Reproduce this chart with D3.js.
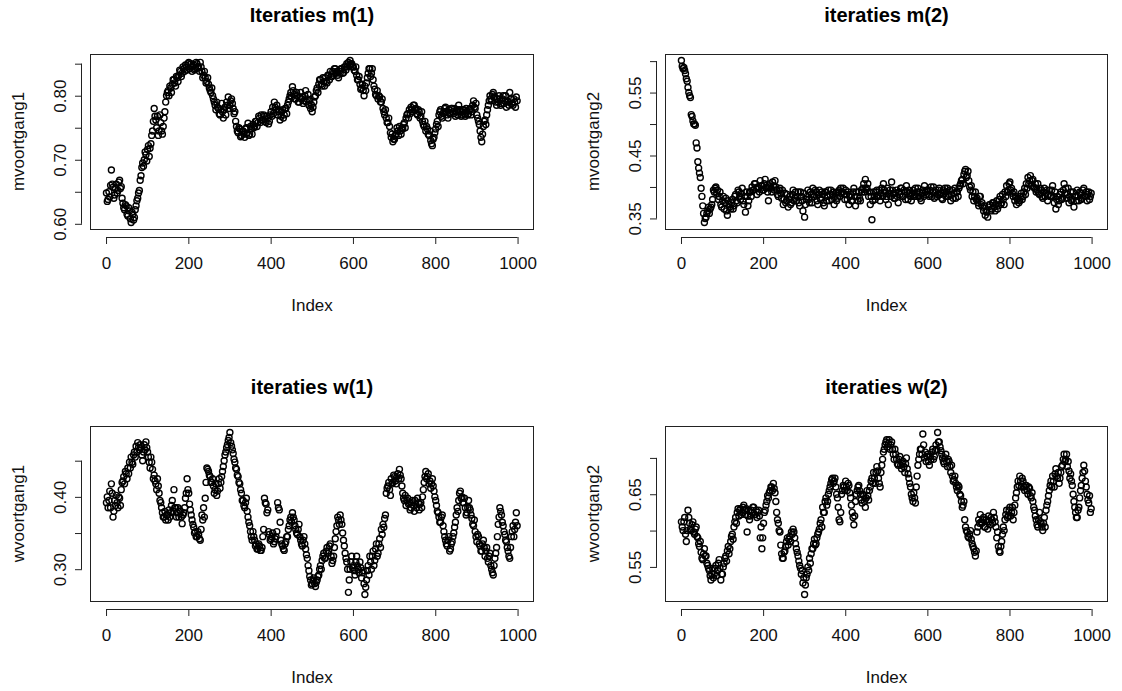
<!DOCTYPE html>
<html>
<head>
<meta charset="utf-8">
<script src="https://cdn.jsdelivr.net/npm/d3@7/dist/d3.min.js"></script>
<style>
  html, body { margin: 0; padding: 0; background: #fff; }
  svg { display: block; font-family: "Liberation Sans", Arial, sans-serif; }
</style>
</head>
<body>
<div class="root"></div>
<script>
// trace values.
// "_a" arrays hold iterations 1, 5, 9, ... 997 and "_b" arrays iterations 3, 7, 11, ... 999
var nIter = 1000, thin = 4;

var mvoortgang1_a = [
  0.648,0.638,0.642,0.684,0.657,0.645,0.662,0.652,0.668,0.658,
  0.632,0.622,0.628,0.612,0.620,0.602,0.615,0.610,0.628,0.640,
  0.652,0.675,0.695,0.700,0.708,0.716,0.705,0.725,0.745,0.780,
  0.762,0.768,0.745,0.758,0.740,0.765,0.790,0.805,0.800,0.812,
  0.818,0.825,0.815,0.828,0.832,0.838,0.835,0.842,0.848,0.840,
  0.852,0.845,0.838,0.848,0.842,0.850,0.845,0.852,0.838,0.832,
  0.828,0.822,0.818,0.808,0.812,0.795,0.785,0.790,0.780,0.770,
  0.788,0.765,0.782,0.790,0.798,0.785,0.795,0.780,0.775,0.752,
  0.742,0.748,0.738,0.745,0.735,0.750,0.757,0.740,0.748,0.755,
  0.752,0.760,0.758,0.765,0.770,0.762,0.768,0.758,0.765,0.760,
  0.775,0.782,0.790,0.778,0.770,0.775,0.768,0.778,0.770,0.780,
  0.785,0.795,0.805,0.814,0.802,0.795,0.800,0.790,0.805,0.798,
  0.792,0.808,0.795,0.785,0.780,0.775,0.790,0.800,0.812,0.818,
  0.825,0.815,0.822,0.828,0.820,0.832,0.838,0.830,0.835,0.842,
  0.838,0.828,0.835,0.842,0.836,0.845,0.850,0.852,0.855,0.850,
  0.845,0.838,0.832,0.825,0.818,0.812,0.808,0.815,0.820,0.835,
  0.842,0.835,0.825,0.810,0.800,0.795,0.798,0.790,0.780,0.770,
  0.765,0.758,0.752,0.735,0.728,0.732,0.740,0.745,0.752,0.740,
  0.748,0.758,0.765,0.772,0.778,0.782,0.775,0.785,0.780,0.770,
  0.775,0.768,0.760,0.752,0.745,0.748,0.738,0.730,0.722,0.735,
  0.748,0.760,0.770,0.778,0.765,0.775,0.782,0.770,0.778,0.772,
  0.780,0.772,0.768,0.778,0.785,0.775,0.770,0.778,0.768,0.776,
  0.772,0.780,0.775,0.792,0.780,0.770,0.760,0.745,0.728,0.752,
  0.762,0.770,0.785,0.800,0.792,0.805,0.798,0.785,0.790,0.795,
  0.788,0.800,0.792,0.782,0.790,0.805,0.795,0.785,0.790,0.798
];
var mvoortgang1_b = [
  0.635,0.650,0.660,0.662,0.640,0.655,0.648,0.665,0.655,0.640,
  0.625,0.630,0.615,0.625,0.608,0.618,0.606,0.622,0.636,0.648,
  0.668,0.688,0.690,0.712,0.698,0.722,0.718,0.738,0.760,0.768,
  0.750,0.738,0.770,0.745,0.752,0.775,0.800,0.808,0.815,0.805,
  0.825,0.820,0.830,0.822,0.840,0.830,0.845,0.838,0.845,0.850,
  0.842,0.850,0.846,0.840,0.852,0.843,0.838,0.845,0.828,0.838,
  0.820,0.828,0.812,0.805,0.800,0.790,0.778,0.782,0.772,0.778,
  0.775,0.778,0.770,0.785,0.780,0.792,0.788,0.772,0.760,0.745,
  0.750,0.736,0.745,0.740,0.748,0.742,0.738,0.752,0.740,0.750,
  0.760,0.752,0.768,0.758,0.762,0.770,0.760,0.768,0.756,0.770,
  0.768,0.772,0.782,0.785,0.778,0.762,0.775,0.765,0.780,0.772,
  0.790,0.800,0.798,0.808,0.795,0.805,0.790,0.798,0.795,0.788,
  0.800,0.790,0.802,0.792,0.786,0.782,0.798,0.808,0.805,0.825,
  0.818,0.828,0.815,0.822,0.832,0.825,0.830,0.838,0.842,0.835,
  0.832,0.838,0.842,0.835,0.845,0.840,0.845,0.848,0.850,0.845,
  0.840,0.845,0.825,0.830,0.810,0.818,0.800,0.808,0.828,0.842,
  0.830,0.842,0.815,0.802,0.808,0.800,0.790,0.795,0.775,0.778,
  0.758,0.765,0.742,0.740,0.732,0.738,0.750,0.738,0.745,0.750,
  0.755,0.750,0.770,0.765,0.772,0.778,0.785,0.778,0.772,0.778,
  0.765,0.775,0.755,0.760,0.752,0.740,0.745,0.725,0.732,0.742,
  0.755,0.752,0.775,0.768,0.772,0.780,0.775,0.765,0.772,0.780,
  0.775,0.780,0.775,0.770,0.778,0.768,0.778,0.772,0.780,0.770,
  0.778,0.770,0.785,0.782,0.788,0.765,0.755,0.735,0.740,0.760,
  0.755,0.778,0.792,0.795,0.802,0.798,0.790,0.795,0.800,0.785,
  0.795,0.788,0.800,0.792,0.785,0.795,0.788,0.795,0.782,0.792
];

var mvoortgang2_a = [
  0.601,0.588,0.585,0.572,0.558,0.545,0.515,0.505,0.500,0.470,
  0.440,0.422,0.398,0.370,0.3435,0.352,0.362,0.358,0.368,0.380,
  0.392,0.400,0.395,0.385,0.372,0.378,0.365,0.382,0.355,0.372,
  0.365,0.380,0.370,0.388,0.375,0.392,0.380,0.398,0.372,0.360,
  0.385,0.378,0.392,0.400,0.395,0.405,0.388,0.398,0.410,0.402,
  0.395,0.412,0.400,0.378,0.405,0.392,0.402,0.410,0.395,0.385,
  0.398,0.382,0.372,0.390,0.378,0.368,0.385,0.375,0.395,0.382,
  0.378,0.392,0.370,0.385,0.362,0.352,0.380,0.395,0.375,0.388,
  0.398,0.385,0.392,0.372,0.395,0.380,0.388,0.370,0.392,0.385,
  0.378,0.395,0.388,0.372,0.390,0.382,0.395,0.398,0.392,0.388,
  0.395,0.380,0.372,0.388,0.378,0.398,0.370,0.385,0.392,0.378,
  0.392,0.405,0.412,0.398,0.385,0.372,0.348,0.392,0.380,0.395,
  0.385,0.378,0.398,0.405,0.392,0.385,0.372,0.395,0.408,0.390,
  0.382,0.395,0.375,0.388,0.398,0.385,0.392,0.402,0.380,0.390,
  0.378,0.395,0.388,0.385,0.398,0.392,0.378,0.395,0.402,0.388,
  0.395,0.385,0.400,0.392,0.382,0.395,0.388,0.398,0.390,0.380,
  0.392,0.385,0.398,0.388,0.378,0.395,0.390,0.382,0.392,0.398,
  0.405,0.412,0.420,0.428,0.418,0.410,0.395,0.385,0.378,0.392,
  0.382,0.370,0.385,0.375,0.362,0.355,0.360,0.368,0.372,0.365,
  0.375,0.362,0.378,0.370,0.385,0.375,0.380,0.392,0.402,0.395,
  0.408,0.398,0.385,0.378,0.372,0.382,0.378,0.390,0.385,0.398,
  0.405,0.415,0.410,0.402,0.412,0.398,0.392,0.405,0.388,0.395,
  0.382,0.398,0.390,0.378,0.395,0.385,0.402,0.375,0.365,0.385,
  0.378,0.392,0.382,0.405,0.398,0.388,0.375,0.392,0.380,0.368,
  0.385,0.395,0.378,0.390,0.382,0.398,0.385,0.378,0.392,0.385
];
var mvoortgang2_b = [
  0.592,0.590,0.580,0.568,0.550,0.542,0.512,0.500,0.498,0.462,
  0.430,0.415,0.385,0.358,0.350,0.358,0.368,0.365,0.372,0.395,
  0.398,0.390,0.380,0.392,0.368,0.385,0.375,0.362,0.378,0.368,
  0.375,0.365,0.385,0.378,0.395,0.385,0.390,0.378,0.385,0.392,
  0.370,0.392,0.385,0.395,0.405,0.398,0.400,0.392,0.402,0.395,
  0.405,0.398,0.392,0.402,0.398,0.408,0.395,0.400,0.388,0.395,
  0.390,0.395,0.380,0.375,0.388,0.380,0.372,0.388,0.378,0.392,
  0.385,0.375,0.392,0.378,0.390,0.372,0.385,0.380,0.392,0.375,
  0.388,0.395,0.378,0.388,0.382,0.392,0.375,0.392,0.378,0.395,
  0.388,0.380,0.392,0.385,0.378,0.392,0.385,0.390,0.398,0.380,
  0.388,0.392,0.385,0.378,0.392,0.385,0.392,0.378,0.382,0.395,
  0.398,0.392,0.395,0.405,0.392,0.385,0.378,0.385,0.392,0.385,
  0.395,0.390,0.385,0.395,0.380,0.398,0.390,0.385,0.395,0.382,
  0.390,0.385,0.392,0.398,0.385,0.395,0.380,0.392,0.395,0.385,
  0.390,0.385,0.398,0.392,0.385,0.382,0.390,0.385,0.392,0.395,
  0.388,0.395,0.385,0.400,0.392,0.385,0.395,0.388,0.382,0.395,
  0.398,0.392,0.385,0.395,0.388,0.382,0.398,0.392,0.385,0.402,
  0.410,0.405,0.425,0.415,0.425,0.400,0.402,0.392,0.385,0.380,
  0.375,0.385,0.372,0.368,0.370,0.362,0.352,0.372,0.362,0.375,
  0.368,0.372,0.365,0.380,0.372,0.388,0.372,0.385,0.392,0.405,
  0.395,0.390,0.392,0.385,0.380,0.375,0.385,0.380,0.392,0.388,
  0.398,0.405,0.418,0.410,0.400,0.405,0.395,0.390,0.398,0.385,
  0.392,0.385,0.395,0.388,0.385,0.395,0.385,0.392,0.380,0.372,
  0.388,0.380,0.395,0.390,0.382,0.398,0.385,0.378,0.392,0.385,
  0.378,0.385,0.392,0.380,0.395,0.385,0.392,0.388,0.380,0.390
];

var wvoortgang1_a = [
  0.392,0.385,0.408,0.418,0.372,0.395,0.402,0.385,0.398,0.410,
  0.422,0.418,0.432,0.440,0.448,0.455,0.445,0.462,0.470,0.475,
  0.465,0.468,0.450,0.472,0.476,0.462,0.448,0.455,0.438,0.430,
  0.418,0.425,0.405,0.392,0.378,0.372,0.368,0.375,0.382,0.378,
  0.395,0.410,0.385,0.378,0.372,0.380,0.363,0.378,0.398,0.425,
  0.405,0.382,0.368,0.358,0.352,0.345,0.348,0.340,0.375,0.385,
  0.398,0.440,0.435,0.428,0.420,0.415,0.410,0.402,0.418,0.412,
  0.428,0.442,0.458,0.468,0.478,0.489,0.470,0.460,0.448,0.438,
  0.428,0.418,0.405,0.395,0.385,0.398,0.372,0.360,0.345,0.352,
  0.340,0.335,0.328,0.332,0.326,0.345,0.398,0.390,0.382,0.348,
  0.342,0.350,0.338,0.345,0.392,0.382,0.340,0.332,0.326,0.338,
  0.345,0.360,0.372,0.378,0.368,0.355,0.348,0.362,0.340,0.332,
  0.345,0.328,0.315,0.298,0.285,0.280,0.288,0.276,0.285,0.292,
  0.305,0.312,0.322,0.315,0.330,0.325,0.335,0.308,0.318,0.342,
  0.360,0.368,0.375,0.362,0.340,0.322,0.310,0.268,0.300,0.318,
  0.305,0.292,0.318,0.300,0.310,0.288,0.298,0.265,0.285,0.305,
  0.318,0.300,0.325,0.312,0.335,0.322,0.342,0.355,0.362,0.370,
  0.405,0.415,0.410,0.425,0.420,0.428,0.418,0.432,0.438,0.425,
  0.405,0.395,0.388,0.398,0.392,0.385,0.395,0.380,0.390,0.398,
  0.382,0.392,0.400,0.420,0.435,0.428,0.418,0.412,0.425,0.408,
  0.395,0.380,0.372,0.365,0.375,0.352,0.340,0.332,0.345,0.328,
  0.338,0.350,0.365,0.385,0.395,0.408,0.400,0.392,0.385,0.378,
  0.395,0.382,0.370,0.360,0.352,0.338,0.345,0.332,0.325,0.340,
  0.318,0.330,0.310,0.322,0.300,0.292,0.315,0.330,0.362,0.385,
  0.375,0.360,0.348,0.338,0.325,0.315,0.345,0.360,0.355,0.378
];
var wvoortgang1_b = [
  0.400,0.395,0.385,0.405,0.380,0.388,0.392,0.400,0.388,0.420,
  0.428,0.435,0.425,0.432,0.440,0.448,0.458,0.455,0.462,0.468,
  0.472,0.458,0.462,0.465,0.468,0.455,0.440,0.448,0.425,0.422,
  0.410,0.415,0.395,0.385,0.372,0.380,0.375,0.368,0.372,0.388,
  0.380,0.385,0.372,0.385,0.382,0.372,0.375,0.385,0.405,0.410,
  0.390,0.375,0.362,0.350,0.345,0.352,0.342,0.355,0.368,0.372,
  0.420,0.438,0.430,0.420,0.425,0.405,0.418,0.408,0.425,0.420,
  0.435,0.450,0.462,0.472,0.482,0.475,0.465,0.452,0.440,0.430,
  0.420,0.410,0.395,0.388,0.392,0.380,0.365,0.352,0.340,0.345,
  0.332,0.328,0.335,0.326,0.330,0.355,0.392,0.378,0.352,0.340,
  0.345,0.335,0.342,0.352,0.385,0.365,0.335,0.328,0.335,0.345,
  0.355,0.368,0.365,0.372,0.360,0.350,0.355,0.345,0.335,0.340,
  0.335,0.320,0.305,0.290,0.278,0.285,0.280,0.282,0.290,0.300,
  0.300,0.318,0.315,0.325,0.322,0.332,0.318,0.312,0.330,0.352,
  0.372,0.362,0.368,0.350,0.332,0.315,0.300,0.285,0.310,0.302,
  0.298,0.310,0.305,0.295,0.302,0.295,0.280,0.275,0.298,0.292,
  0.310,0.318,0.305,0.328,0.318,0.335,0.330,0.348,0.358,0.375,
  0.412,0.420,0.402,0.418,0.430,0.422,0.428,0.425,0.430,0.415,
  0.398,0.402,0.395,0.390,0.382,0.392,0.388,0.395,0.385,0.392,
  0.390,0.385,0.410,0.428,0.425,0.432,0.422,0.418,0.415,0.400,
  0.388,0.378,0.365,0.372,0.360,0.345,0.335,0.340,0.325,0.335,
  0.345,0.358,0.375,0.380,0.405,0.398,0.392,0.398,0.375,0.385,
  0.385,0.375,0.362,0.368,0.345,0.348,0.335,0.325,0.335,0.330,
  0.325,0.315,0.318,0.305,0.295,0.305,0.322,0.345,0.372,0.380,
  0.365,0.352,0.340,0.330,0.318,0.330,0.352,0.345,0.365,0.360
];

var wvoortgang2_a = [
  0.612,0.600,0.618,0.585,0.628,0.610,0.600,0.612,0.595,0.605,
  0.590,0.578,0.570,0.560,0.575,0.565,0.552,0.545,0.532,0.548,
  0.540,0.552,0.545,0.560,0.532,0.540,0.555,0.565,0.572,0.568,
  0.585,0.595,0.605,0.618,0.625,0.620,0.630,0.625,0.635,0.622,
  0.598,0.628,0.620,0.625,0.632,0.622,0.618,0.628,0.590,0.575,
  0.610,0.628,0.640,0.645,0.655,0.660,0.665,0.652,0.625,0.610,
  0.598,0.568,0.562,0.572,0.585,0.580,0.592,0.598,0.602,0.590,
  0.575,0.565,0.552,0.540,0.528,0.512,0.535,0.550,0.562,0.568,
  0.575,0.588,0.582,0.595,0.602,0.615,0.632,0.625,0.645,0.640,
  0.655,0.665,0.672,0.668,0.660,0.645,0.615,0.625,0.655,0.660,
  0.668,0.655,0.662,0.645,0.625,0.608,0.640,0.655,0.662,0.650,
  0.638,0.648,0.632,0.655,0.642,0.660,0.672,0.680,0.665,0.688,
  0.672,0.660,0.690,0.708,0.718,0.725,0.720,0.712,0.722,0.705,
  0.712,0.698,0.690,0.702,0.685,0.695,0.680,0.700,0.678,0.665,
  0.650,0.640,0.645,0.660,0.690,0.705,0.712,0.733,0.700,0.695,
  0.705,0.690,0.698,0.712,0.702,0.718,0.735,0.722,0.710,0.700,
  0.692,0.705,0.688,0.695,0.680,0.675,0.670,0.665,0.655,0.660,
  0.648,0.632,0.640,0.605,0.598,0.590,0.600,0.582,0.575,0.565,
  0.598,0.615,0.622,0.610,0.618,0.605,0.612,0.620,0.608,0.615,
  0.625,0.612,0.590,0.578,0.570,0.585,0.605,0.615,0.628,0.620,
  0.632,0.625,0.615,0.635,0.652,0.668,0.675,0.660,0.668,0.655,
  0.662,0.650,0.658,0.645,0.640,0.628,0.615,0.605,0.625,0.610,
  0.600,0.618,0.628,0.640,0.655,0.668,0.675,0.660,0.685,0.672,
  0.665,0.680,0.690,0.705,0.698,0.688,0.682,0.678,0.662,0.640,
  0.625,0.618,0.632,0.655,0.672,0.690,0.668,0.650,0.638,0.625
];
var wvoortgang2_b = [
  0.605,0.612,0.595,0.600,0.618,0.602,0.608,0.598,0.602,0.592,
  0.582,0.585,0.562,0.568,0.565,0.555,0.548,0.538,0.540,0.535,
  0.548,0.538,0.555,0.548,0.540,0.550,0.562,0.558,0.578,0.575,
  0.592,0.588,0.612,0.610,0.630,0.628,0.622,0.632,0.628,0.630,
  0.620,0.615,0.628,0.632,0.622,0.628,0.625,0.620,0.605,0.590,
  0.625,0.635,0.648,0.652,0.660,0.655,0.658,0.640,0.615,0.600,
  0.580,0.562,0.570,0.578,0.590,0.588,0.585,0.595,0.598,0.582,
  0.570,0.558,0.548,0.545,0.535,0.525,0.540,0.545,0.555,0.575,
  0.582,0.580,0.590,0.598,0.610,0.605,0.625,0.640,0.635,0.650,
  0.660,0.670,0.665,0.672,0.650,0.632,0.612,0.650,0.662,0.655,
  0.660,0.665,0.652,0.635,0.618,0.620,0.650,0.660,0.655,0.642,
  0.650,0.640,0.645,0.648,0.655,0.668,0.665,0.672,0.680,0.682,
  0.665,0.680,0.698,0.712,0.722,0.715,0.725,0.718,0.712,0.698,
  0.705,0.692,0.698,0.690,0.692,0.688,0.692,0.685,0.672,0.660,
  0.645,0.652,0.638,0.675,0.698,0.712,0.705,0.718,0.708,0.702,
  0.695,0.702,0.708,0.698,0.710,0.712,0.722,0.715,0.705,0.695,
  0.700,0.695,0.698,0.688,0.690,0.668,0.675,0.660,0.662,0.650,
  0.640,0.635,0.615,0.600,0.592,0.595,0.588,0.578,0.570,0.572,
  0.605,0.610,0.612,0.615,0.605,0.615,0.602,0.612,0.618,0.610,
  0.618,0.605,0.598,0.572,0.578,0.595,0.600,0.622,0.618,0.628,
  0.620,0.632,0.625,0.645,0.660,0.662,0.668,0.672,0.660,0.662,
  0.655,0.660,0.648,0.652,0.632,0.620,0.608,0.615,0.612,0.605,
  0.610,0.605,0.635,0.648,0.662,0.660,0.668,0.678,0.675,0.680,
  0.672,0.688,0.698,0.695,0.705,0.695,0.672,0.668,0.650,0.632,
  0.618,0.628,0.645,0.662,0.680,0.682,0.660,0.642,0.648,0.630
];

var titles = ["Iteraties m(1)", "iteraties m(2)", "iteraties w(1)", "iteraties w(2)"];
var yLabels = ["mvoortgang1", "mvoortgang2", "wvoortgang1", "wvoortgang2"];
var series = [
  [mvoortgang1_a, mvoortgang1_b],
  [mvoortgang2_a, mvoortgang2_b],
  [wvoortgang1_a, wvoortgang1_b],
  [wvoortgang2_a, wvoortgang2_b]
];

// plot boxes (left, top, right, bottom)
var boxes = [
  [90, 54, 534, 229],
  [665, 54, 1108, 229],
  [90, 426, 534, 601],
  [665, 426, 1108, 601]
];

var width = 1122, height = 691;

var svg = d3.select('.root')
            .append('svg')
            .attr("width", width)
            .attr("height", height);

// R style axis range: data range stretched by 4% on each side
function rRange(lo, hi) {
  var pad = (hi - lo) * 0.04;
  return [lo - pad, hi + pad];
}

series.forEach(function (pair, k) {
  var b = boxes[k];
  var pts = [];
  pair[0].forEach(function (v, i) { pts.push({index: 1 + i * thin, value: v}); });
  pair[1].forEach(function (v, i) { pts.push({index: 3 + i * thin, value: v}); });
  pts.sort(function (p, q) { return p.index - q.index; });
  var vals = pts.map(function (d) { return d.value; });

  var x = d3.scaleLinear()
            .domain(rRange(1, nIter))
            .range([b[0], b[2]]);

  var y = d3.scaleLinear()
            .domain(rRange(d3.min(vals), d3.max(vals)))
            .range([b[3], b[1]]);

  var g = svg.append('g');

  // points
  g.append('g')
   .selectAll('circle')
   .data(pts)
   .enter()
   .append('circle')
   .attr("cx", function (d) { return x(d.index); })
   .attr("cy", function (d) { return y(d.value); })
   .attr("r", 3.0)
   .attr("fill", "none")
   .attr("stroke", "#000")
   .attr("stroke-width", 1.4);

  // x axis
  var xAxis = d3.axisBottom(x)
                .ticks(5)
                .tickSize(7)
                .tickPadding(8)
                .tickFormat(d3.format("d"));
  var gx = g.append('g')
            .attr("transform", "translate(0," + (b[3] + 8) + ")")
            .call(xAxis);
  gx.select('.domain').attr("d", "M" + x(0) + ",0.5H" + x(1000));

  // y axis, labels on every other tick as R does
  var yTicks = y.ticks(5);
  var yAxis = d3.axisLeft(y)
                .tickValues(yTicks)
                .tickSize(7)
                .tickFormat(function (d, i) { return i % 2 === 0 ? d3.format(".2f")(d) : ""; });
  var gy = g.append('g')
            .attr("transform", "translate(" + (b[0] - 8) + ",0)")
            .call(yAxis);
  gy.select('.domain').attr("d", "M-0.5," + y(yTicks[0]) + "V" + y(yTicks[yTicks.length - 1]));
  gy.selectAll('.tick text')
    .attr("x", null)
    .attr("dy", null)
    .attr("text-anchor", "middle")
    .attr("transform", "translate(-16,0) rotate(-90)");

  [gx, gy].forEach(function (a) {
    a.selectAll('path, line').attr("stroke", "#222").attr("stroke-width", 1);
    a.selectAll('text').attr("fill", "#111").style("font-size", "17px")
     .style("font-family", "'Liberation Sans', Arial, sans-serif");
  });
  gx.selectAll('.tick text').attr("dy", "1.0em");

  // box
  g.append('rect')
   .attr("x", b[0] + 0.5)
   .attr("y", b[1] + 0.5)
   .attr("width", b[2] - b[0] - 1)
   .attr("height", b[3] - b[1])
   .attr("fill", "none")
   .attr("stroke", "#222")
   .attr("stroke-width", 1);

  var cx = (b[0] + b[2]) / 2;

  g.append('text')
   .text(titles[k])
   .attr("x", cx)
   .attr("y", b[1] - 32)
   .attr("text-anchor", "middle")
   .style("font-size", "20px")
   .style("font-weight", "bold");

  g.append('text')
   .text("Index")
   .attr("x", cx)
   .attr("y", b[3] + 82)
   .attr("text-anchor", "middle")
   .style("font-size", "17px")
   .attr("fill", "#111");

  g.append('text')
   .text(yLabels[k])
   .attr("transform", "translate(" + (b[0] - 66) + "," + ((b[1] + b[3]) / 2) + ") rotate(-90)")
   .attr("text-anchor", "middle")
   .style("font-size", "17px")
   .attr("fill", "#111");
});
</script>
</body>
</html>
